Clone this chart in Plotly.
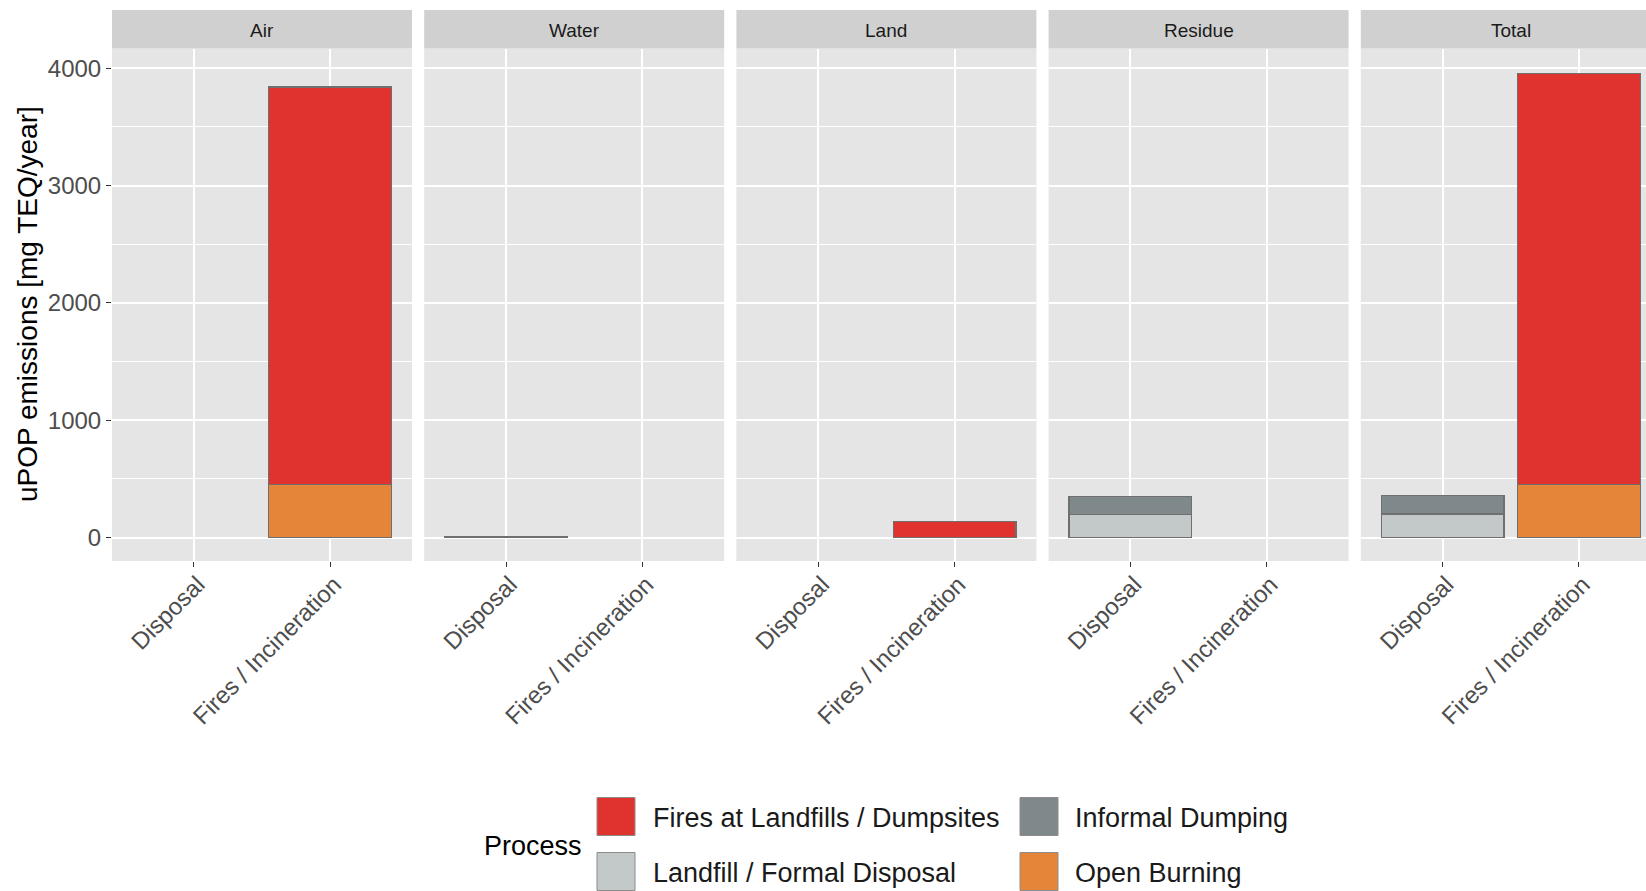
import plotly.graph_objects as go

# ---------------- data ----------------
compartments = ["Air", "Water", "Land", "Residue", "Total"]
categories = ["Disposal", "Fires / Incineration"]

# values per compartment: [Disposal, Fires / Incineration]; None = no bar
open_burning = [[None, 450], [None, None], [None, None], [None, None], [None, 450]]
landfill_formal = [[None, None], [5, None], [None, None], [195, None], [200, None]]
informal_dumping = [[None, None], [None, None], [None, None], [155, None], [155, None]]
fires_landfills = [[None, 3390], [None, None], [None, 135], [None, None], [None, 3505]]

process_names = ["Open Burning", "Landfill / Formal Disposal",
                 "Informal Dumping", "Fires at Landfills / Dumpsites"]
process_colors = ["#E4853A", "#C3C9C8", "#7F898B", "#E0332F"]
process_values = [open_burning, landfill_formal, informal_dumping, fires_landfills]

legend_rows = [["Fires at Landfills / Dumpsites", "Informal Dumping"],
               ["Landfill / Formal Disposal", "Open Burning"]]
y_ticks = [0, 1000, 2000, 3000, 4000]

# ---------------- layout geometry ----------------
W, H = 1646, 891
FONT = "Liberation Sans, Arial, Helvetica, sans-serif"
panel_left0 = 112
panel_step = 312.2
panel_w = 300.0
px_per_unit = panel_w / 2.2
strip_top, strip_bot = 10.0, 48.5
panel_bot = 561.0
y_min = -200
y_px_per_val = 0.11731
y_max = y_min + (panel_bot - strip_bot) / y_px_per_val

fig = go.Figure()
layout_axes = {}
shapes = []
annotations = []

for i, comp in enumerate(compartments):
    ax = "x" if i == 0 else f"x{i+1}"
    axname = "xaxis" if i == 0 else f"xaxis{i+1}"
    x0 = panel_left0 + panel_step * i
    x1 = min(x0 + panel_w, W)
    rng = [-0.6, -0.6 + (x1 - x0) / px_per_unit]
    layout_axes[axname] = dict(
        domain=[x0 / W, x1 / W], anchor="y", range=rng,
        type="category", categoryorder="array", categoryarray=categories,
        tickangle=-45, ticks="outside", ticklen=5, tickwidth=1.3, tickcolor="#333333",
        ticklabelstandoff=-6, ticklabelshift=4,
        tickfont=dict(size=24, color="#4D4D4D", family=FONT),
        showgrid=True, gridcolor="white", gridwidth=2,
        zeroline=False, showline=False, fixedrange=True,
    )
    for name, color, vals in zip(process_names, process_colors, process_values):
        yv = vals[i]
        if all(v is None for v in yv):
            continue
        fig.add_trace(go.Bar(
            x=categories, y=yv, name=name, xaxis=ax, yaxis="y",
            marker=dict(color=color, line=dict(color="#6F6F6F", width=1.2)),
            width=0.9, showlegend=False,
        ))
    # strip
    shapes.append(dict(type="rect", xref="paper", yref="paper",
                       x0=x0 / W, x1=x1 / W, y0=1 - strip_bot / H, y1=1 - strip_top / H,
                       fillcolor="#D0D0D0", line=dict(width=0), layer="below"))
    annotations.append(dict(text=comp, xref="paper", yref="paper",
                            x=(x0 + panel_w / 2) / W, y=1 - 31 / H,
                            xanchor="center", yanchor="middle", showarrow=False,
                            font=dict(size=19, color="#1A1A1A", family=FONT)))

# y-axis title
annotations.append(dict(text="uPOP emissions [mg TEQ/year]", xref="paper", yref="paper",
                        x=27 / W, y=1 - 304 / H, textangle=-90, showarrow=False,
                        xanchor="center", yanchor="middle",
                        font=dict(size=28, color="#000000", family=FONT)))

# legend (manual, 2x2 column-major like ggplot)
annotations.append(dict(text="Process", xref="paper", yref="paper",
                        x=482 / W, y=1 - 846 / H, xanchor="left", yanchor="middle",
                        showarrow=False, font=dict(size=27, color="#000000", family=FONT)))
key_x = [597, 1020]
text_x = [651, 1073]
row_c = [816.5, 871.5]
key_sz = 38
color_of = dict(zip(process_names, process_colors))
for r, row in enumerate(legend_rows):
    for c, label in enumerate(row):
        shapes.append(dict(type="rect", xref="paper", yref="paper",
                           x0=key_x[c] / W, x1=(key_x[c] + key_sz) / W,
                           y0=1 - (row_c[r] + key_sz / 2) / H, y1=1 - (row_c[r] - key_sz / 2) / H,
                           fillcolor=color_of[label], line=dict(color="#8C8C8C", width=1)))
        annotations.append(dict(text=label, xref="paper", yref="paper",
                                x=text_x[c] / W, y=1 - (row_c[r] + 1.5) / H,
                                xanchor="left", yanchor="middle", showarrow=False,
                                font=dict(size=27, color="#1A1A1A", family=FONT)))

fig.update_layout(
    width=W, height=H, autosize=False,
    margin=dict(l=0, r=0, t=0, b=0),
    paper_bgcolor="white", plot_bgcolor="#E5E5E5",
    barmode="stack", bargap=0.1,
    font=dict(family=FONT),
    yaxis=dict(domain=[1 - panel_bot / H, 1 - strip_bot / H], anchor="x",
               range=[y_min, y_max], tickvals=y_ticks,
               ticks="outside", ticklen=5, tickwidth=1.3, tickcolor="#333333",
               tickfont=dict(size=24, color="#4D4D4D", family=FONT),
               showgrid=True, gridcolor="white", gridwidth=2,
               minor=dict(dtick=500, tick0=0, showgrid=True, gridcolor="white",
                          gridwidth=1, ticks=""),
               zeroline=False, showline=False, fixedrange=True),
    shapes=shapes, annotations=annotations,
    **layout_axes,
)

fig.write_html("out.html")
